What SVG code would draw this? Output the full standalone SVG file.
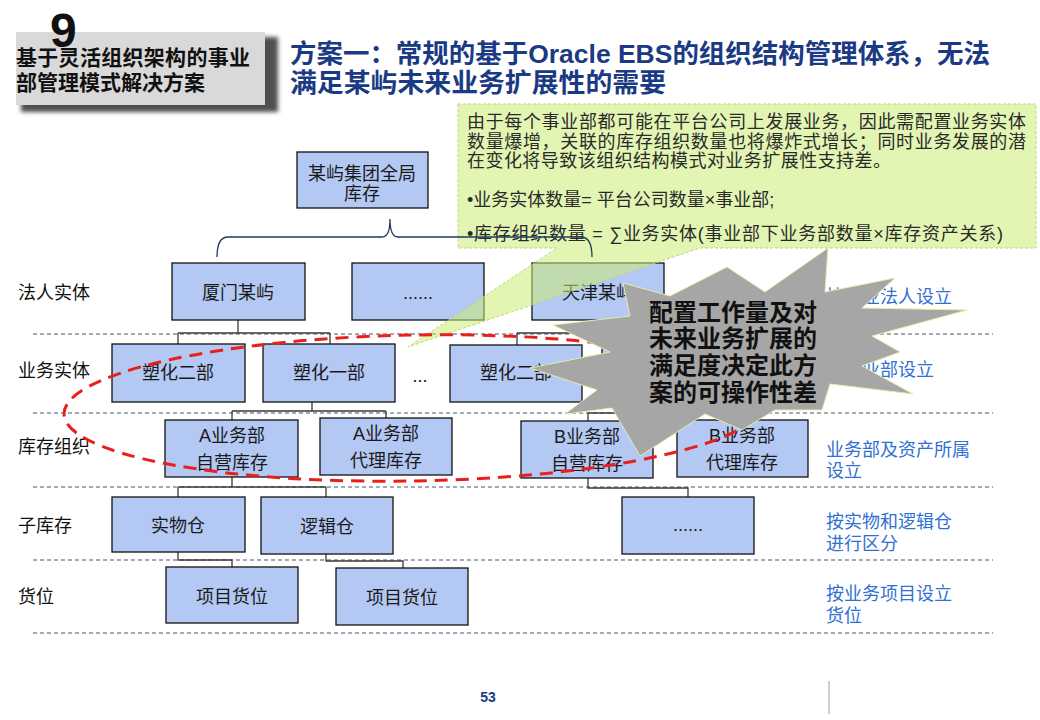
<svg xmlns="http://www.w3.org/2000/svg" width="1040" height="720" viewBox="0 0 1040 720">
<defs>
<filter id="blur" x="-10%" y="-10%" width="120%" height="130%"><feGaussianBlur stdDeviation="2"/></filter>
<style>
text{font-family:"Liberation Sans","Noto Sans CJK SC",sans-serif}
.box{fill:#b4c8f4;stroke:#111;stroke-width:1.3}
.bt{font-size:18px;fill:#1a1a1a;text-anchor:middle}
.lab{font-size:18px;fill:#111}
.rl{font-size:18px;fill:#3170d3}
.sep{stroke:#44546a;stroke-width:1;stroke-dasharray:4 3;fill:none}
.con{stroke:#3a3a3a;stroke-width:1.3;fill:none}
.ct{font-size:18px;fill:#2a2a2a}
.st{font-size:24px;font-weight:bold;fill:#111;text-anchor:middle}
</style>
</defs>
<rect width="1040" height="720" fill="#fff"/>
<g id="header">
<rect x="21" y="37" width="257" height="75" fill="#505050" filter="url(#blur)"/>
<rect x="16" y="32" width="249" height="73" fill="#d9d9d9"/>
<text x="50" y="47" font-size="48" font-weight="bold" fill="#111">9</text>
<text x="16" y="65" font-size="21" font-weight="bold" fill="#111" textLength="234">基于灵活组织架构的事业</text>
<text x="16" y="90" font-size="21" font-weight="bold" fill="#111">部管理模式解决方案</text>
</g>
<g id="title" font-weight="bold" fill="#1b3a84">
<text x="290" y="63" font-size="26" textLength="700" lengthAdjust="spacingAndGlyphs">方案一：常规的基于Oracle EBS的组织结构管理体系，无法</text>
<text x="290" y="92" font-size="26" textLength="376" lengthAdjust="spacingAndGlyphs">满足某屿未来业务扩展性的需要</text>
</g>
<g id="separators">
<line class="sep" x1="33" y1="334" x2="993" y2="334"/>
<line class="sep" x1="33" y1="413" x2="993" y2="413"/>
<line class="sep" x1="33" y1="487" x2="993" y2="487"/>
<line class="sep" x1="33" y1="560" x2="993" y2="560"/>
<line class="sep" x1="33" y1="633" x2="993" y2="633"/>
</g>
<g id="connectors">
<path class="con" d="M238,320 V333 M178,333 H330 M178,333 V345 M330,333 V345"/>
<path class="con" d="M598,320 V333 M517,333 H668 M517,333 V345 M668,333 V345"/>
<path class="con" d="M312,402 V411 M232,411 H386 M232,411 V420 M386,411 V418"/>
<path class="con" d="M668,402 V413 M588,413 H743 M588,413 V421 M743,413 V420"/>
<path class="con" d="M232,477 V487 M178,487 H326 M178,487 V497 M326,487 V497"/>
<path class="con" d="M588,478 V488 H688 V497"/>
<path class="con" d="M178,552 V560 H232 V567 M326,554 V561 H403 V568"/>
</g>
<g id="n-root"><rect class="box" x="297" y="152" width="131" height="56"/><text class="bt" x="362" y="180">某屿集团全局</text><text class="bt" x="362" y="200">库存</text></g>
<g id="n-xiamen"><rect class="box" x="172" y="263" width="133" height="57"/><text class="bt" x="238" y="299">厦门某屿</text></g>
<g id="n-dots1"><rect class="box" x="352" y="263" width="132" height="57"/><text class="bt" x="418" y="299">......</text></g>
<g id="n-tianjin"><rect class="box" x="532" y="263" width="132" height="57"/><text class="bt" x="598" y="299">天津某屿</text></g>
<g id="n-sh2a"><rect class="box" x="112" y="344" width="133" height="58"/><text class="bt" x="178" y="379">塑化二部</text></g>
<g id="n-sh1"><rect class="box" x="263" y="344" width="132" height="58"/><text class="bt" x="329" y="379">塑化一部</text></g>
<g id="n-ell"><text class="bt" x="420" y="382">...</text></g>
<g id="n-sh2b"><rect class="box" x="450" y="345" width="132" height="57"/><text class="bt" x="516" y="379">塑化二部</text></g>
<g id="n-hidden"><rect class="box" x="602" y="345" width="132" height="57"/></g>
<g id="n-aself"><rect class="box" x="165" y="420" width="133" height="57"/><text class="bt" x="232" y="442">A业务部</text><text class="bt" x="232" y="469">自营库存</text></g>
<g id="n-aagent"><rect class="box" x="320" y="418" width="132" height="57"/><text class="bt" x="386" y="440">A业务部</text><text class="bt" x="386" y="467">代理库存</text></g>
<g id="n-bself"><rect class="box" x="521" y="421" width="132" height="57"/><text class="bt" x="587" y="443">B业务部</text><text class="bt" x="587" y="470">自营库存</text></g>
<g id="n-bagent"><rect class="box" x="677" y="420" width="131" height="57"/><text class="bt" x="742" y="442">B业务部</text><text class="bt" x="742" y="469">代理库存</text></g>
<g id="n-phys"><rect class="box" x="112" y="497" width="133" height="55"/><text class="bt" x="178" y="532">实物仓</text></g>
<g id="n-logic"><rect class="box" x="261" y="497" width="132" height="57"/><text class="bt" x="327" y="533">逻辑仓</text></g>
<g id="n-dots2"><rect class="box" x="622" y="497" width="132" height="57"/><text class="bt" x="688" y="531">......</text></g>
<g id="n-loc1"><rect class="box" x="166" y="567" width="132" height="56"/><text class="bt" x="232" y="603">项目货位</text></g>
<g id="n-loc2"><rect class="box" x="336" y="568" width="132" height="57"/><text class="bt" x="402" y="604">项目货位</text></g>
<g id="left-labels">
<text class="lab" x="18" y="299">法人实体</text>
<text class="lab" x="18" y="377">业务实体</text>
<text class="lab" x="18" y="453">库存组织</text>
<text class="lab" x="18" y="532">子库存</text>
<text class="lab" x="18" y="603">货位</text>
</g>
<g id="right-labels">
<text class="rl" x="826" y="303">按企业法人设立</text>
<text class="rl" x="826" y="376">按事业部设立</text>
<text class="rl" x="826" y="456">业务部及资产所属</text>
<text class="rl" x="826" y="477">设立</text>
<text class="rl" x="826" y="528">按实物和逻辑仓</text>
<text class="rl" x="826" y="550">进行区分</text>
<text class="rl" x="826" y="600">按业务项目设立</text>
<text class="rl" x="826" y="622">货位</text>
</g>
<g id="callout">
<path d="M458,104 H1036 V248 H700 L408,347 L557,248 H458 Z" fill="#cbec74" fill-opacity="0.55" stroke="#bcd877" stroke-width="1" stroke-dasharray="3 2"/>
<text class="ct" x="467" y="128" textLength="559">由于每个事业部都可能在平台公司上发展业务，因此需配置业务实体</text>
<text class="ct" x="467" y="148" textLength="559">数量爆增，关联的库存组织数量也将爆炸式增长；同时业务发展的潜</text>
<text class="ct" x="467" y="167" textLength="424">在变化将导致该组织结构模式对业务扩展性支持差。</text>
<text class="ct" x="467" y="206">•业务实体数量= 平台公司数量×事业部;</text>
<text class="ct" x="467" y="240" textLength="536">•库存组织数量 = ∑业务实体(事业部下业务部数量×库存资产关系)</text>
</g>
<g id="brace">
<path d="M217,257 Q217,237 228,237 L382,237 Q390,237 390,219 Q390,237 398,237 L581,237 Q592,237 592,257" fill="none" stroke="#203864" stroke-width="1.3"/>
</g>
<g id="highlight">
<ellipse cx="414" cy="408" rx="350" ry="73" transform="rotate(-1 414 408)" fill="none" stroke="#e8201c" stroke-width="3" stroke-dasharray="13 8"/>
</g>
<g id="burst">
<polygon points="828,248 825,292 895,278 862,308 967,310 872,336 900,352 862,366 913,394 830,384 822,410 775,410 742,430 705,414 640,456 612,408 565,414 597,390 530,368 610,352 553,325 630,316 623,283 670,296 727,267 765,292" fill="#a6a6a6" stroke="#e4eea8" stroke-width="1"/>
<text class="st" x="733" y="321">配置工作量及对</text>
<text class="st" x="733" y="347">未来业务扩展的</text>
<text class="st" x="733" y="374">满足度决定此方</text>
<text class="st" x="733" y="401">案的可操作性差</text>
</g>
<g id="footer">
<text x="488" y="702" font-size="14" font-weight="bold" fill="#1b3a84" text-anchor="middle">53</text>
<line x1="829" y1="681" x2="829" y2="714" stroke="#b0b0b0" stroke-width="1.2"/>
</g>
</svg>
